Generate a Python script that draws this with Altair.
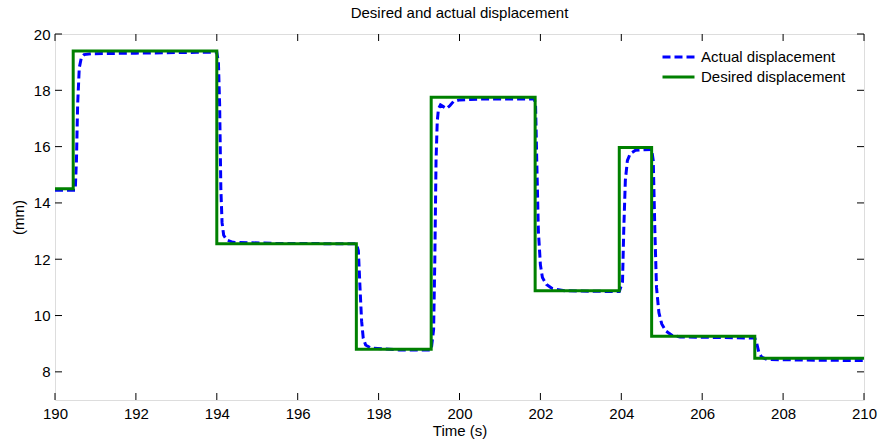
import altair as alt
import pandas as pd

# ---- data ----
series_names = ["Actual displacement", "Desired displacement"]

desired_time = [190.0, 190.45, 190.45, 194.0, 194.0, 197.45, 197.45, 199.3, 199.3,
                201.87, 201.87, 203.95, 203.95, 204.75, 204.75, 207.3, 207.3, 210.0]
desired_disp = [14.5, 14.5, 19.4, 19.4, 12.55, 12.55, 8.8, 8.8, 17.75,
                17.75, 10.88, 10.88, 15.97, 15.97, 9.26, 9.26, 8.48, 8.48]

actual_time = [190.0, 190.5, 190.53, 190.56, 190.6, 190.65, 190.72, 190.9, 192.0, 193.5,
               194.0, 194.04, 194.07, 194.1, 194.13, 194.17, 194.25, 194.4, 195.5, 197.45,
               197.5, 197.54, 197.58, 197.62, 197.68, 197.8, 198.5, 199.3,
               199.36, 199.39, 199.42, 199.45, 199.48, 199.53, 199.6, 199.68, 199.76, 199.85,
               200.0, 200.5, 201.85,
               201.88, 201.91, 201.95, 202.0, 202.05, 202.15, 202.3, 202.6, 203.95,
               204.03, 204.06, 204.1, 204.15, 204.22, 204.35, 204.75,
               204.79, 204.83, 204.87, 204.93, 205.0, 205.1, 205.25, 205.45, 207.3,
               207.35, 207.4, 207.47, 207.6, 208.5, 210.0]
actual_disp = [14.45, 14.45, 15.5, 17.5, 18.8, 19.15, 19.27, 19.3, 19.32, 19.35,
               19.35, 19.0, 17.5, 14.5, 13.3, 12.85, 12.68, 12.6, 12.56, 12.55,
               12.3, 11.0, 9.8, 9.2, 8.95, 8.85, 8.78, 8.78,
               9.5, 12.0, 15.5, 16.9, 17.35, 17.48, 17.42, 17.35, 17.45, 17.6,
               17.66, 17.69, 17.69,
               17.5, 15.5, 13.0, 11.8, 11.35, 11.1, 10.95, 10.88, 10.85,
               11.2, 13.0, 14.8, 15.5, 15.75, 15.87, 15.9,
               15.5, 13.0, 11.0, 10.1, 9.7, 9.45, 9.3, 9.24, 9.2,
               9.0, 8.7, 8.52, 8.44, 8.42, 8.4]

x_ticks = [190, 192, 194, 196, 198, 200, 202, 204, 206, 208, 210]
y_ticks = [8, 10, 12, 14, 16, 18, 20]

# ---- layout ----
W, H = 809, 366
FONT = "Liberation Sans"
FS = 15
TICK = 7

df = pd.concat([
    pd.DataFrame({"t": actual_time, "d": actual_disp, "series": series_names[0],
                  "i": range(len(actual_time))}),
    pd.DataFrame({"t": desired_time, "d": desired_disp, "series": series_names[1],
                  "i": range(len(desired_time))}),
], ignore_index=True)

xs = alt.Scale(domain=[190, 210], nice=False, zero=False)
ys = alt.Scale(domain=[7, 20], nice=False, zero=False)

x_axis = alt.Axis(
    values=x_ticks, format="d", title="Time (s)", ticks=False, tickSize=0,
    domain=False, grid=False, labelFlush=False, labelOverlap=False,
    labelFont=FONT, labelFontSize=FS, labelColor="black", labelPadding=6,
    titleFont=FONT, titleFontSize=FS, titleFontWeight="normal", titleColor="black",
    titleBaseline="alphabetic", titleY=35.5)
y_axis = alt.Axis(
    values=y_ticks, title="(mm)", ticks=False, tickSize=0,
    domain=False, grid=False, labelFlush=False, labelOverlap=False,
    labelFont=FONT, labelFontSize=FS, labelColor="black", labelPadding=5,
    titleFont=FONT, titleFontSize=FS, titleFontWeight="normal", titleColor="black",
    titleBaseline="middle", titleX=-37)

legend = alt.Legend(
    title=None, orient="none", legendX=606, legendY=13,
    symbolType="stroke", symbolSize=1024, symbolStrokeWidth=3,
    labelFont=FONT, labelFontSize=FS, labelColor="black", labelOffset=5,
    clipHeight=20, rowPadding=0, padding=0,
)

lines = alt.Chart(df).mark_line(strokeWidth=3, clip=True).encode(
    x=alt.X("t:Q", scale=xs, axis=x_axis),
    y=alt.Y("d:Q", scale=ys, axis=y_axis),
    color=alt.Color("series:N", scale=alt.Scale(domain=series_names, range=["#0000ff", "#008000"]),
                    legend=legend),
    strokeDash=alt.StrokeDash("series:N", scale=alt.Scale(domain=series_names, range=[[8, 4], [1, 0]]),
                              legend=legend),
    order=alt.Order("i:Q"),
)

xt = pd.DataFrame({"t": x_ticks})
yt = pd.DataFrame({"d": y_ticks})

bottom_ticks = alt.Chart(xt).mark_rule(color="black", strokeWidth=1).encode(
    x=alt.X("t:Q", scale=xs, axis=x_axis), y=alt.value(H), y2=alt.value(H - TICK))
top_ticks = alt.Chart(xt).mark_rule(color="black", strokeWidth=1).encode(
    x=alt.X("t:Q", scale=xs, axis=x_axis), y=alt.value(0), y2=alt.value(TICK))
left_ticks = alt.Chart(yt).mark_rule(color="black", strokeWidth=1).encode(
    y=alt.Y("d:Q", scale=ys, axis=y_axis), x=alt.value(0), x2=alt.value(TICK))
right_ticks = alt.Chart(yt).mark_rule(color="black", strokeWidth=1).encode(
    y=alt.Y("d:Q", scale=ys, axis=y_axis), x=alt.value(W), x2=alt.value(W - TICK))

chart = alt.layer(lines, bottom_ticks, top_ticks, left_ticks, right_ticks).properties(
    width=W, height=H,
    title=alt.Title("Desired and actual displacement", font=FONT, fontSize=FS,
                    fontWeight="normal", color="black", anchor="middle",
                    baseline="alphabetic", offset=11, dy=17),
    autosize=alt.AutoSizeParams(type="none"),
    padding={"left": 55, "top": 34, "right": 17, "bottom": 40},
).configure_view(stroke="black", strokeWidth=1.2).configure(background="white")

chart.save("out.html", embed_options={"renderer": "svg", "actions": False})
